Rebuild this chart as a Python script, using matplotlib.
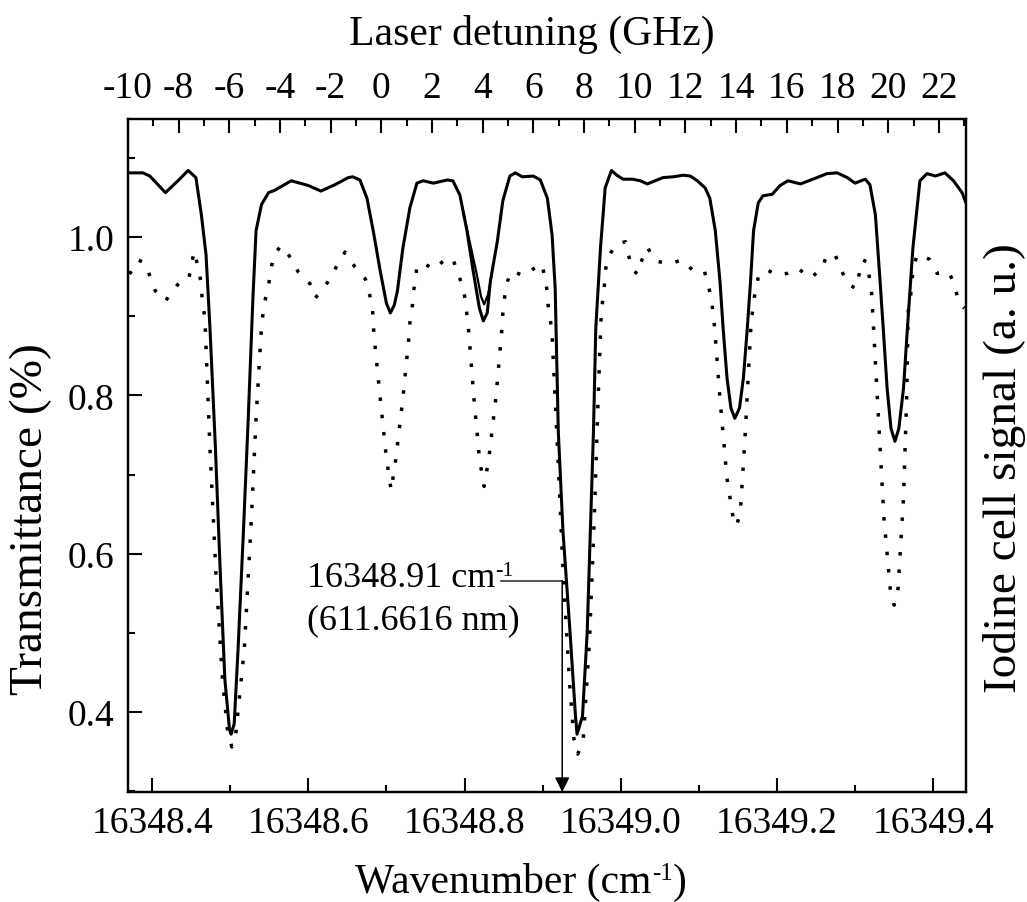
import numpy as np
import matplotlib.pyplot as plt
from matplotlib.ticker import MultipleLocator

plt.rcParams['font.family'] = ['Liberation Serif', 'DejaVu Serif']
plt.rcParams['axes.unicode_minus'] = False

# transmittance scan (solid)
wn_trans = [16348.369, 16348.388, 16348.397, 16348.417, 16348.433, 16348.446, 16348.456,
            16348.463, 16348.469, 16348.474, 16348.481, 16348.487, 16348.493, 16348.499,
            16348.501, 16348.505, 16348.510, 16348.517, 16348.523, 16348.529, 16348.533,
            16348.540, 16348.549, 16348.557, 16348.578, 16348.600, 16348.616, 16348.634,
            16348.651, 16348.657, 16348.666, 16348.675, 16348.683, 16348.692, 16348.700,
            16348.705, 16348.710, 16348.714, 16348.721, 16348.730, 16348.739, 16348.747,
            16348.760, 16348.778, 16348.785, 16348.794, 16348.803, 16348.811, 16348.819,
            16348.824, 16348.829, 16348.833, 16348.842, 16348.849, 16348.858, 16348.865,
            16348.874, 16348.888, 16348.897, 16348.906, 16348.912, 16348.916, 16348.920,
            16348.926, 16348.935, 16348.942, 16348.944, 16348.948, 16348.951, 16348.957,
            16348.961, 16348.965, 16348.968, 16348.974, 16348.980, 16348.988, 16348.995,
            16349.003, 16349.015, 16349.025, 16349.034, 16349.044, 16349.054, 16349.067,
            16349.080, 16349.089, 16349.098, 16349.108, 16349.114, 16349.121, 16349.127,
            16349.131, 16349.136, 16349.141, 16349.146, 16349.152, 16349.157, 16349.162,
            16349.166, 16349.170, 16349.176, 16349.182, 16349.194, 16349.204, 16349.214,
            16349.230, 16349.246, 16349.264, 16349.277, 16349.290, 16349.300, 16349.313,
            16349.319, 16349.326, 16349.332, 16349.336, 16349.341, 16349.346, 16349.351,
            16349.356, 16349.362, 16349.367, 16349.374, 16349.383, 16349.392, 16349.403,
            16349.415, 16349.426, 16349.437, 16349.442]
trans = [1.081, 1.081, 1.077, 1.056, 1.071, 1.084, 1.075,
         1.028, 0.977, 0.885, 0.733, 0.581, 0.442, 0.378,
         0.372, 0.385, 0.480, 0.632, 0.771, 0.923, 1.008,
         1.041, 1.056, 1.059, 1.071, 1.065, 1.058, 1.066,
         1.075, 1.076, 1.072, 1.049, 1.008, 0.957, 0.916,
         0.904, 0.914, 0.932, 0.986, 1.037, 1.068, 1.071,
         1.068, 1.072, 1.071, 1.053, 1.008, 0.957, 0.910,
         0.894, 0.904, 0.944, 0.995, 1.046, 1.077, 1.081,
         1.076, 1.077, 1.072, 1.049, 1.003, 0.935, 0.754,
         0.628, 0.501, 0.395, 0.372, 0.385, 0.395, 0.501,
         0.628, 0.754, 0.885, 0.986, 1.062, 1.084, 1.078,
         1.073, 1.073, 1.071, 1.067, 1.071, 1.075, 1.076,
         1.078, 1.077, 1.071, 1.062, 1.049, 1.008, 0.944,
         0.885, 0.822, 0.784, 0.771, 0.784, 0.822, 0.885,
         0.942, 1.008, 1.043, 1.052, 1.054, 1.065, 1.071,
         1.067, 1.073, 1.080, 1.081, 1.075, 1.068, 1.073,
         1.066, 1.028, 0.944, 0.885, 0.809, 0.758, 0.742,
         0.758, 0.809, 0.885, 0.986, 1.071, 1.080, 1.077,
         1.081, 1.071, 1.056, 1.043]

# second pass over the 4 GHz line
wn_scan2 = [16348.798, 16348.807, 16348.816, 16348.821, 16348.825, 16348.830, 16348.835]
scan2 = [1.033, 0.992, 0.951, 0.925, 0.915, 0.927, 0.954]

# iodine cell signal (dotted)
wn_iodine = [16348.371, 16348.382, 16348.391, 16348.397, 16348.404, 16348.417, 16348.424,
             16348.436, 16348.447, 16348.450, 16348.454, 16348.456, 16348.460, 16348.463,
             16348.464, 16348.467, 16348.468, 16348.474, 16348.482, 16348.490, 16348.497,
             16348.502, 16348.507, 16348.518, 16348.527, 16348.533, 16348.540, 16348.542,
             16348.545, 16348.549, 16348.552, 16348.555, 16348.565, 16348.578, 16348.587,
             16348.602, 16348.609, 16348.616, 16348.628, 16348.637, 16348.647, 16348.659,
             16348.673, 16348.678, 16348.682, 16348.684, 16348.692, 16348.700, 16348.706,
             16348.712, 16348.721, 16348.729, 16348.730, 16348.733, 16348.734, 16348.737,
             16348.739, 16348.747, 16348.761, 16348.773, 16348.785, 16348.791, 16348.798,
             16348.801, 16348.803, 16348.805, 16348.812, 16348.819, 16348.825, 16348.831,
             16348.840, 16348.848, 16348.849, 16348.851, 16348.853, 16348.860, 16348.876,
             16348.890, 16348.899, 16348.903, 16348.906, 16348.907, 16348.910, 16348.912,
             16348.919, 16348.926, 16348.934, 16348.940, 16348.945, 16348.952, 16348.960,
             16348.966, 16348.971, 16348.975, 16348.977, 16348.979, 16348.980, 16348.984,
             16348.994, 16349.006, 16349.010, 16349.015, 16349.022, 16349.027, 16349.034,
             16349.044, 16349.061, 16349.079, 16349.093, 16349.107, 16349.112, 16349.116,
             16349.118, 16349.120, 16349.127, 16349.136, 16349.144, 16349.148, 16349.153,
             16349.159, 16349.167, 16349.170, 16349.172, 16349.176, 16349.186, 16349.200,
             16349.213, 16349.226, 16349.243, 16349.258, 16349.264, 16349.275, 16349.283,
             16349.290, 16349.301, 16349.305, 16349.310, 16349.316, 16349.318, 16349.321,
             16349.322, 16349.323, 16349.330, 16349.337, 16349.345, 16349.350, 16349.355,
             16349.362, 16349.366, 16349.368, 16349.371, 16349.373, 16349.374, 16349.380,
             16349.395, 16349.405, 16349.420, 16349.428, 16349.432, 16349.440]
iodine = [0.953, 0.971, 0.967, 0.951, 0.932, 0.919, 0.929,
          0.944, 0.947, 0.965, 0.982, 0.973, 0.957, 0.939,
          0.920, 0.901, 0.885, 0.733, 0.568, 0.442, 0.372,
          0.356, 0.372, 0.480, 0.644, 0.771, 0.887, 0.904,
          0.922, 0.939, 0.957, 0.976, 0.989, 0.973, 0.956,
          0.941, 0.923, 0.932, 0.947, 0.965, 0.981, 0.963,
          0.947, 0.929, 0.911, 0.876, 0.796, 0.720, 0.680,
          0.720, 0.796, 0.876, 0.892, 0.911, 0.927, 0.946,
          0.963, 0.967, 0.959, 0.970, 0.973, 0.954, 0.938,
          0.919, 0.901, 0.884, 0.796, 0.720, 0.685, 0.720,
          0.796, 0.886, 0.904, 0.922, 0.939, 0.957, 0.951,
          0.961, 0.966, 0.948, 0.930, 0.913, 0.894, 0.877,
          0.733, 0.581, 0.442, 0.366, 0.347, 0.366, 0.492,
          0.644, 0.796, 0.904, 0.922, 0.939, 0.957, 0.975,
          0.991, 0.994, 0.977, 0.958, 0.953, 0.971, 0.987,
          0.970, 0.966, 0.971, 0.957, 0.957, 0.939, 0.922,
          0.905, 0.887, 0.796, 0.695, 0.644, 0.635, 0.651,
          0.746, 0.895, 0.914, 0.932, 0.949, 0.959, 0.952,
          0.954, 0.961, 0.948, 0.961, 0.978, 0.976, 0.957,
          0.941, 0.935, 0.952, 0.971, 0.968, 0.951, 0.932,
          0.914, 0.896, 0.771, 0.644, 0.556, 0.535, 0.556,
          0.670, 0.796, 0.906, 0.925, 0.944, 0.961, 0.978,
          0.972, 0.954, 0.956, 0.938, 0.919, 0.910]

wn_ticks = [16348.4, 16348.6, 16348.8, 16349.0, 16349.2, 16349.4]
t_ticks = [0.4, 0.6, 0.8, 1.0]
ghz_ticks = [-10, -8, -6, -4, -2, 0, 2, 4, 6, 8, 10, 12, 14, 16, 18, 20, 22]

wn_lim = (16348.369, 16349.442)
t_lim = (0.299, 1.149)
ghz_lim = (-10, 23.07)

# annotation
mark_wn = 16348.925
mark_line_start = 16348.846
mark_t = 0.566
label_wn = 16348.598
label_t = (0.5595, 0.506)

fs_tick = 27
fs_xlabel = 30
fs_ylabel = 34
fs_sup = 16

fig = plt.figure(figsize=(10.27, 9.03), dpi=100)
ax = fig.add_axes([0.1246, 0.1218, 0.8160, 0.7453])

ax.plot(wn_trans, trans, color='black', lw=2.2)
ax.plot(wn_scan2, scan2, color='black', lw=1.6)
ax.plot(wn_iodine, iodine, color='black', lw=2.5, linestyle=(0, (1, 4)))

ax.set_xlim(*wn_lim)
ax.set_ylim(*t_lim)
ax.set_xticks(wn_ticks)
ax.set_xticklabels(['%.1f' % v for v in wn_ticks])
ax.xaxis.set_minor_locator(MultipleLocator(0.1))
ax.set_yticks(t_ticks)
ax.set_yticklabels(['%.1f' % v for v in t_ticks])
ax.yaxis.set_minor_locator(MultipleLocator(0.1))
ax.tick_params(which='both', direction='in', top=False, right=False,
               width=1.5, labelsize=fs_tick)
ax.tick_params(which='major', length=10)
ax.tick_params(which='minor', length=5)
ax.tick_params(axis='x', pad=10)
ax.tick_params(axis='y', pad=10)
for s in ax.spines.values():
    s.set_linewidth(1.6)

ax_top = ax.twiny()
ax_top.set_xlim(*ghz_lim)
ax_top.set_xticks(ghz_ticks)
ax_top.set_xticklabels([str(v) for v in ghz_ticks])
ax_top.xaxis.set_minor_locator(MultipleLocator(1))
ax_top.tick_params(axis='x', which='both', direction='in', width=1.5,
                   labelsize=fs_tick, pad=10)
ax_top.tick_params(axis='x', which='major', length=10)
ax_top.tick_params(axis='x', which='minor', length=5)
ax_top.yaxis.set_visible(False)
for s in ax_top.spines.values():
    s.set_linewidth(1.6)

# leader line and arrow to the axis
ax.plot([mark_line_start, mark_wn], [mark_t, mark_t], color='#222222', lw=1.1)
ax.annotate('', xy=(mark_wn, t_lim[0]), xytext=(mark_wn, mark_t),
            arrowprops=dict(arrowstyle='-|>', color='black', lw=1.1,
                            mutation_scale=22, shrinkA=0, shrinkB=0))
t1 = ax.text(label_wn, label_t[0], '16348.91 cm', fontsize=fs_tick - 1, va='baseline')
ax.annotate('-1', xy=(1.0, 1.0), xycoords=t1, ha='left', va='top', fontsize=fs_sup)
ax.text(label_wn, label_t[1], '(611.6616 nm)', fontsize=fs_tick - 1, va='baseline')

# axis titles
xl = fig.text(0.346, 0.011, 'Wavenumber (cm', fontsize=fs_xlabel, ha='left', va='baseline')
xl_sup = ax.annotate('-1', xy=(1.0, 1.0), xycoords=xl, ha='left', va='top',
                     fontsize=18, annotation_clip=False)
ax.annotate(')', xy=(1.0, 0.0), xycoords=(xl_sup, xl), ha='left', va='bottom',
            fontsize=fs_xlabel, annotation_clip=False)

fig.text(0.518, 0.950, 'Laser detuning (GHz)', fontsize=fs_xlabel, ha='center', va='baseline')
fig.text(0.030, 0.425, 'Transmittance (%)', fontsize=fs_ylabel, rotation=90,
         ha='center', va='center')
fig.text(0.978, 0.482, 'Iodine cell signal (a. u.)', fontsize=fs_ylabel, rotation=90,
         ha='center', va='center')

fig.savefig('out.png', dpi=100)
